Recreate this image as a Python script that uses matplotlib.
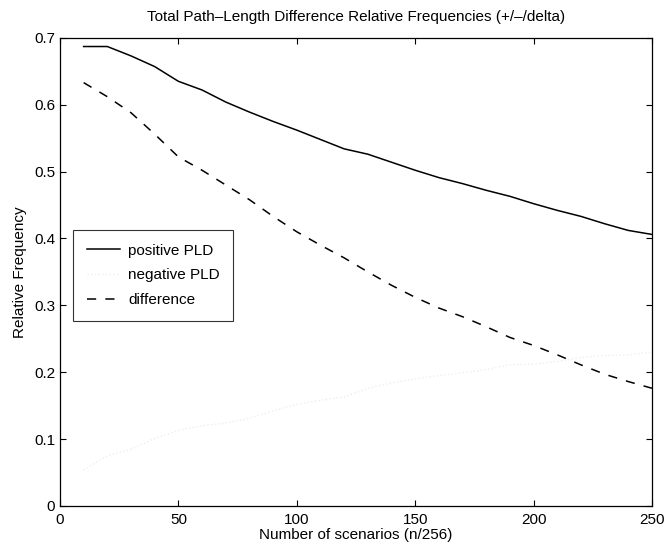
import numpy as np
import matplotlib
matplotlib.use('Agg')
import matplotlib.pyplot as plt

plt.rcParams['font.family'] = ['Liberation Sans', 'DejaVu Sans']

# Numero de escenarios (n/256)
scenarios = [10, 20, 30, 40, 50, 60, 70, 80, 90, 100, 110, 120, 130,
             140, 150, 160, 170, 180, 190, 200, 210, 220, 230, 240, 250]

positive_pld = [0.687, 0.687, 0.673, 0.657, 0.635, 0.622, 0.604, 0.589, 0.575,
                0.562, 0.548, 0.534, 0.526, 0.514, 0.502, 0.491, 0.482, 0.472,
                0.463, 0.452, 0.442, 0.433, 0.422, 0.412, 0.406]

negative_pld = [0.054, 0.075, 0.085, 0.101, 0.113, 0.120, 0.124, 0.131, 0.142,
                0.152, 0.158, 0.163, 0.176, 0.184, 0.190, 0.195, 0.199, 0.204,
                0.211, 0.212, 0.216, 0.222, 0.225, 0.226, 0.230]

difference = [0.633, 0.612, 0.588, 0.556, 0.522, 0.502, 0.480, 0.458, 0.433,
              0.410, 0.390, 0.371, 0.350, 0.330, 0.312, 0.296, 0.283, 0.268,
              0.252, 0.240, 0.226, 0.211, 0.197, 0.186, 0.176]

xticks = [0, 50, 100, 150, 200, 250]
yticks = [0, 0.1, 0.2, 0.3, 0.4, 0.5, 0.6, 0.7]
ytick_labels = ['0', '0.1', '0.2', '0.3', '0.4', '0.5', '0.6', '0.7']

FS = 11

fig = plt.figure(figsize=(6.66, 5.45), dpi=100)
ax = fig.add_axes([0.090, 0.0716, 0.889, 0.859])

ax.plot(scenarios, positive_pld, color='black', lw=1.1, label='positive PLD')
ax.plot(scenarios, negative_pld, color='#eeeeee', lw=1.0, ls=':', label='negative PLD')
ax.plot(scenarios, difference, color='black', lw=1.1, ls=(0, (6, 6)), label='difference')

ax.set_xlim(0, 250)
ax.set_ylim(0, 0.7)
ax.set_xticks(xticks)
ax.set_yticks(yticks)
ax.set_xticklabels([str(t) for t in xticks])
ax.set_yticklabels(ytick_labels)
ax.tick_params(direction='in', top=True, right=True, length=4, width=0.8,
               labelsize=FS)
ax.tick_params(axis='x', pad=5)
ax.tick_params(axis='y', pad=3.5)
for s in ax.spines.values():
    s.set_linewidth(0.9)

ax.set_title('Total Path\u2013Length Difference Relative Frequencies (+/\u2013/delta)',
             fontsize=FS, pad=12)
ax.set_xlabel('Number of scenarios (n/256)', fontsize=FS, labelpad=1)
ax.set_ylabel('Relative Frequency', fontsize=FS, labelpad=5)

leg = ax.legend(loc='upper left', bbox_to_anchor=(0.022, 0.59), borderaxespad=0,
                fontsize=FS, frameon=True, fancybox=False, handlelength=2.2,
                borderpad=0.9, labelspacing=0.7, handletextpad=0.5)
leg.get_frame().set_edgecolor('black')
leg.get_frame().set_linewidth(0.8)

fig.savefig('out.png', dpi=100)
